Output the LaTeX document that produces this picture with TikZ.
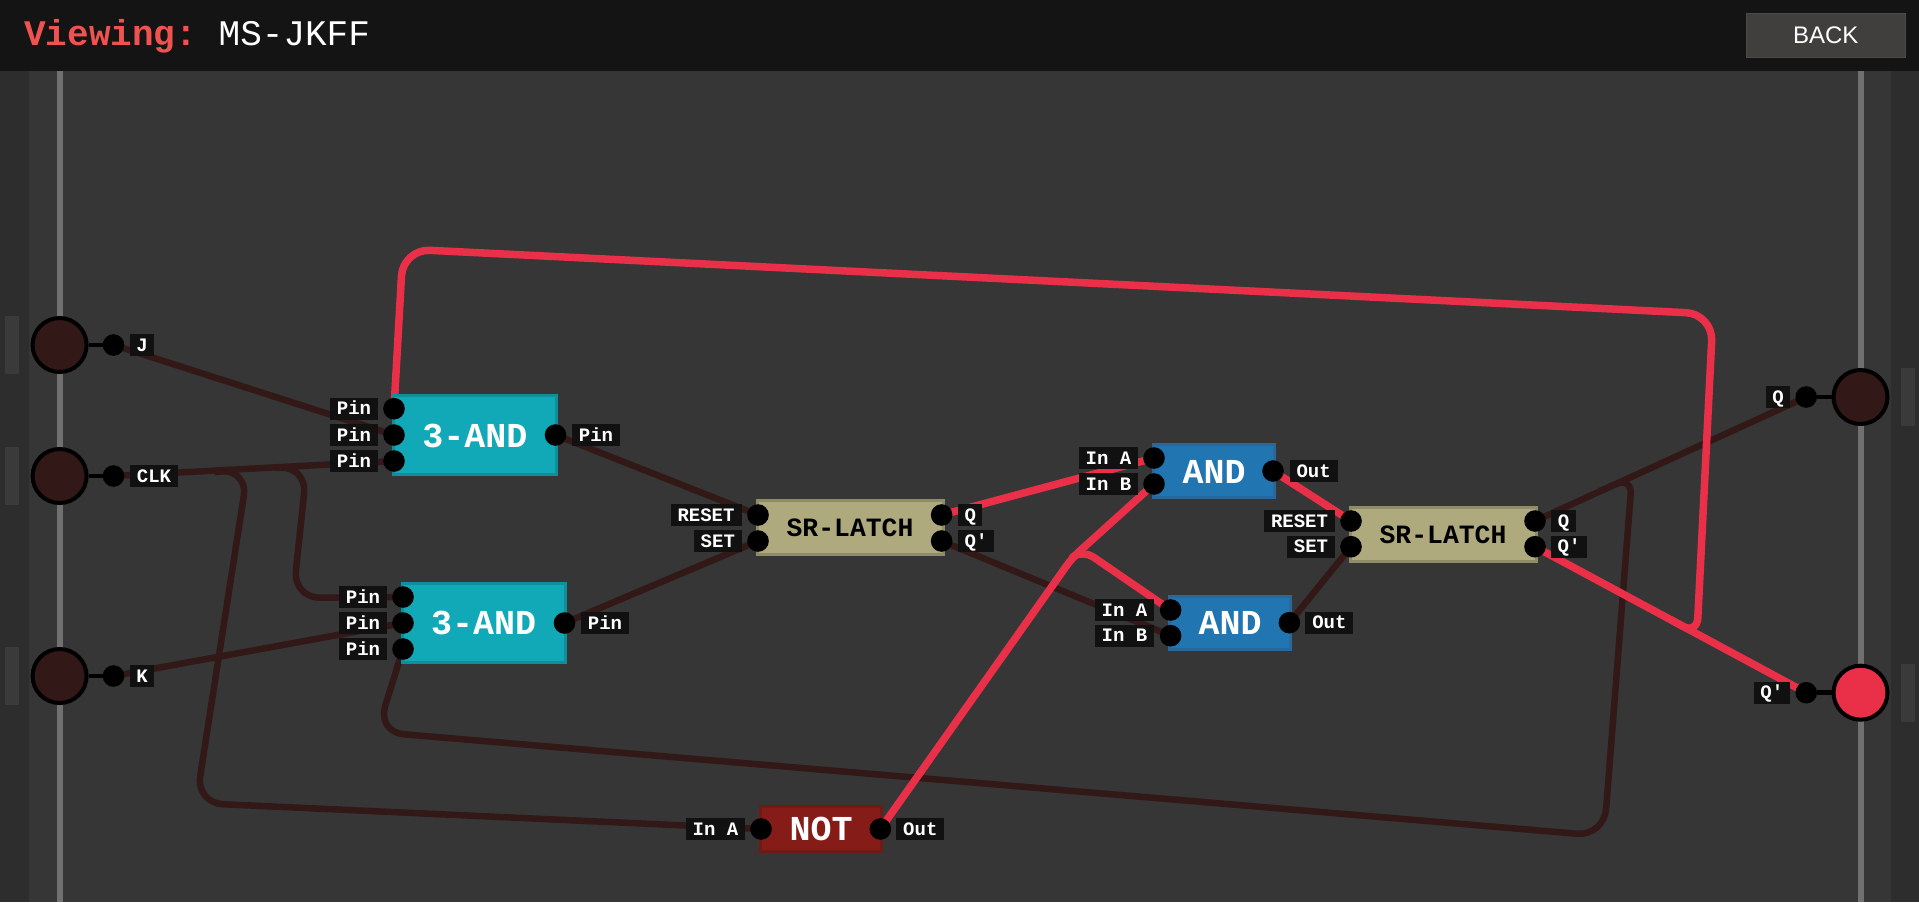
\documentclass[tikz,border=0pt]{standalone}
\usepackage{fontspec}
\setmainfont[Ligatures=TeXOff]{Liberation Mono}
\newfontfamily\btnfont{Liberation Sans}
\definecolor{canvas}{HTML}{363636}
\definecolor{hdr}{HTML}{141414}
\definecolor{band}{HTML}{2D2D2D}
\definecolor{tabc}{HTML}{3A3A3A}
\definecolor{railc}{HTML}{707070}
\definecolor{wireoff}{HTML}{331818}
\definecolor{wireon}{HTML}{EA3048}
\definecolor{viewc}{HTML}{EF5350}
\definecolor{labbg}{HTML}{111111}
\definecolor{btnb}{HTML}{4A4A48}
\definecolor{btnf}{HTML}{403F3E}
\definecolor{teal1}{HTML}{11A8B7}
\definecolor{teal2}{HTML}{0F8F9C}
\definecolor{blue1}{HTML}{2176B1}
\definecolor{blue2}{HTML}{2A689A}
\definecolor{latch1}{HTML}{AEAA7E}
\definecolor{latch2}{HTML}{8F8C68}
\definecolor{red1}{HTML}{861C18}
\definecolor{red2}{HTML}{701A16}
\pgfdeclarelayer{wires}
\pgfsetlayers{wires,main}
\tikzset{
  x=1pt,y=-1pt,
  pinc/.style={circle,fill=black,draw=none,minimum size=21.6pt,inner sep=0pt},
  lab/.style={fill=labbg,text=white,font=\fontsize{19}{19}\selectfont\bfseries,minimum height=22pt,inner sep=0pt,text height=12.5pt,text depth=0pt},
  block/.style={rectangle,line width=3pt,inner sep=0pt,text height=24pt,text depth=0pt,font=\fontsize{35}{35}\selectfont\bfseries,text=white},
  tealb/.style={block,fill=teal1,draw=teal2,minimum width=163pt,minimum height=79pt},
  blub/.style={block,fill=blue1,draw=blue2,minimum width=120.5pt,minimum height=53.5pt},
  latchb/.style={block,fill=latch1,draw=latch2,minimum width=186pt,minimum height=54pt,text=black,font=\fontsize{26.4}{26.4}\selectfont\bfseries,text height=18pt},
  notb/.style={block,fill=red1,draw=red2,minimum width=120.5pt,minimum height=45pt},
  ionode/.style={circle,draw=black,line width=4pt,minimum size=54pt,inner sep=0pt},
  offw/.style={draw=wireoff,line width=6.5pt,line join=round},
  onw/.style={draw=wireon,line width=7.5pt,line join=round},
  rc/.style={rounded corners=27pt},
}
\begin{document}
\begin{tikzpicture}
\useasboundingbox (0,0) rectangle (1919,902);
\begin{pgfonlayer}{wires}
\fill[canvas] (0,0) rectangle (1919,902);
\fill[band] (0,70) rectangle (29,902);
\fill[band] (1891,70) rectangle (1919,902);
\fill[tabc] (5,316) rectangle (19,374);
\fill[tabc] (5,447) rectangle (19,505);
\fill[tabc] (5,647) rectangle (19,705);
\fill[tabc] (1901,368) rectangle (1915,426);
\fill[tabc] (1901,664) rectangle (1915,722);
\fill[railc] (56.6,70) rectangle (62.6,902);
\fill[railc] (1857.5,70) rectangle (1863.5,902);
\end{pgfonlayer}
% header
\fill[hdr] (0,0) rectangle (1919,70.5);
\node[anchor=base west,inner sep=0pt,text=viewc,font=\fontsize{36}{36}\selectfont\bfseries] (viewing) at (24,45.5) {Viewing:};
\node[anchor=base west,inner sep=0pt,text=white,font=\fontsize{36}{36}\selectfont] (title) at (218.5,45.5) {MS-JKFF};
\node[draw=btnb,fill=btnf,line width=1pt,minimum width=159pt,minimum height=44pt,text=white,inner sep=0pt,font=\btnfont\fontsize{24}{24}\selectfont] (back) at (1825.7,35) {BACK};
% blocks
\node[tealb] (a1) at (475,435) {3-AND};
\node[tealb] (a2) at (483.7,622.8) {3-AND};
\node[latchb] (s1) at (850,527.5) {SR-LATCH};
\node[latchb] (s2) at (1443,534) {SR-LATCH};
\node[blub] (b1) at (1214,471) {AND};
\node[blub] (b2) at (1230,622.8) {AND};
\node[notb] (n) at (821,828.7) {NOT};
% io
\node[ionode,fill=wireoff] (iJ) at (59.6,345) {};
\node[ionode,fill=wireoff] (iC) at (59.6,476) {};
\node[ionode,fill=wireoff] (iK) at (59.6,676) {};
\node[ionode,fill=wireoff] (oQ) at (1860.5,397) {};
\node[ionode,fill=wireon] (oP) at (1860.5,692.7) {};
% pins
\node[pinc] (pJ) at (113.5,345) {};
\node[pinc] (pC) at (113.5,476) {};
\node[pinc] (pK) at (113.5,676) {};
\node[pinc] (pQ) at (1806.2,397) {};
\node[pinc] (pP) at (1806.2,692.7) {};
\node[pinc] (a1i) at (394,408.7) {};
\node[pinc] (a1j) at (394,435) {};
\node[pinc] (a1k) at (394,461) {};
\node[pinc] (a1o) at (555.5,435) {};
\node[pinc] (a2i) at (403,597) {};
\node[pinc] (a2j) at (403,623) {};
\node[pinc] (a2k) at (403,649) {};
\node[pinc] (a2o) at (564.5,623) {};
\node[pinc] (s1r) at (758,515) {};
\node[pinc] (s1s) at (758,541) {};
\node[pinc] (s1q) at (941.6,515) {};
\node[pinc] (s1p) at (941.6,541) {};
\node[pinc] (s2r) at (1351,521) {};
\node[pinc] (s2s) at (1351,546.7) {};
\node[pinc] (s2q) at (1535,521) {};
\node[pinc] (s2p) at (1535,546.7) {};
\node[pinc] (b1a) at (1154,458) {};
\node[pinc] (b1b) at (1154,484) {};
\node[pinc] (b1o) at (1273,471) {};
\node[pinc] (b2a) at (1170.6,610) {};
\node[pinc] (b2b) at (1170.6,635.7) {};
\node[pinc] (b2o) at (1289.4,622.7) {};
\node[pinc] (ni) at (761,829) {};
\node[pinc] (no) at (880.4,829) {};
% labels
\node[lab,minimum width=24pt] (lJ) at (142,345) {J};
\node[lab,minimum width=48pt] (lC) at (154,476) {CLK};
\node[lab,minimum width=24pt] (lK) at (142,676) {K};
\node[lab,minimum width=24pt] (lQ) at (1778,397) {Q};
\node[lab,minimum width=36pt] (lP) at (1771.8,692.7) {Q'};
\node[lab,minimum width=48pt] (l1) at (354,408.7) {Pin};
\node[lab,minimum width=48pt] (l2) at (354,435) {Pin};
\node[lab,minimum width=48pt] (l3) at (354,461) {Pin};
\node[lab,minimum width=48pt] (l4) at (596,435) {Pin};
\node[lab,minimum width=48pt] (l5) at (363,597) {Pin};
\node[lab,minimum width=48pt] (l6) at (363,623) {Pin};
\node[lab,minimum width=48pt] (l7) at (363,649) {Pin};
\node[lab,minimum width=48pt] (l8) at (605,623) {Pin};
\node[lab,minimum width=71pt] (l9) at (706,515) {RESET};
\node[lab,minimum width=48pt] (l10) at (717.8,541) {SET};
\node[lab,minimum width=24.5pt] (l11) at (970.2,515) {Q};
\node[lab,minimum width=36pt] (l12) at (976,541) {Q'};
\node[lab,minimum width=71pt] (l13) at (1299.5,521) {RESET};
\node[lab,minimum width=48pt] (l14) at (1311,546.7) {SET};
\node[lab,minimum width=24.5pt] (l15) at (1563.5,521) {Q};
\node[lab,minimum width=36pt] (l16) at (1569,546.7) {Q'};
\node[lab,minimum width=59pt] (l17) at (1108.5,458) {In A};
\node[lab,minimum width=59pt] (l18) at (1108.5,484) {In B};
\node[lab,minimum width=48pt] (l19) at (1313.6,471) {Out};
\node[lab,minimum width=59pt] (l20) at (1124.5,610) {In A};
\node[lab,minimum width=59pt] (l21) at (1124.5,635.7) {In B};
\node[lab,minimum width=48pt] (l22) at (1329.4,622.7) {Out};
\node[lab,minimum width=59pt] (l23) at (715.5,829) {In A};
\node[lab,minimum width=48pt] (l24) at (920.3,829) {Out};
% junctions
\coordinate (jc1) at (215,472);
\coordinate (jc2) at (275,468);
\coordinate (jq) at (1600,491);
\coordinate (jf) at (1670,619.3);
\coordinate (jr) at (1073,556.5);
% wires
\begin{pgfonlayer}{wires}
\draw[black,line width=4.5pt] (iJ) -- (pJ);
\draw[black,line width=4.5pt] (iC) -- (pC);
\draw[black,line width=4.5pt] (iK) -- (pK);
\draw[black,line width=4.5pt] (oQ) -- (pQ);
\draw[black,line width=4.5pt] (oP) -- (pP);
\draw[offw] (pJ.center) -- (a1j.center);
\draw[offw] (pC.center) -- (a1k.center);
\draw[offw] (pK.center) -- (a2j.center);
\draw[offw,rc] (jc1) -- (248,469) -- (196,803) -- (ni.center);
\draw[offw,rc] (jc2) -- (307,466) -- (293,598) -- (a2i.center);
\draw[offw] (a1o.center) -- (s1r.center);
\draw[offw] (a2o.center) -- (s1s.center);
\draw[offw] (s1p.center) -- (b2b.center);
\draw[offw] (b2o.center) -- (s2s.center);
\draw[offw] (s2q.center) -- (pQ.center);
\draw[offw,rc] (a2k.center) -- (377,732) -- (1604,836) [rounded corners=17pt] -- (1632,477) -- (jq);
\draw[onw] (s1q.center) -- (b1a.center);
\draw[onw] (b1o.center) -- (s2r.center);
\draw[onw] (s2p.center) -- (pP.center);
\draw[onw,rounded corners=10pt] (no.center) -- (1072,558) -- (b1b.center);
\draw[onw,rounded corners=12pt] (jr) -- (1083,550) -- (b2a.center);
\draw[onw,rc] (a1i.center) -- (403,249) -- (1713,314) [rounded corners=16pt] -- (1697,634) -- (jf);
\end{pgfonlayer}
\end{tikzpicture}
\end{document}
